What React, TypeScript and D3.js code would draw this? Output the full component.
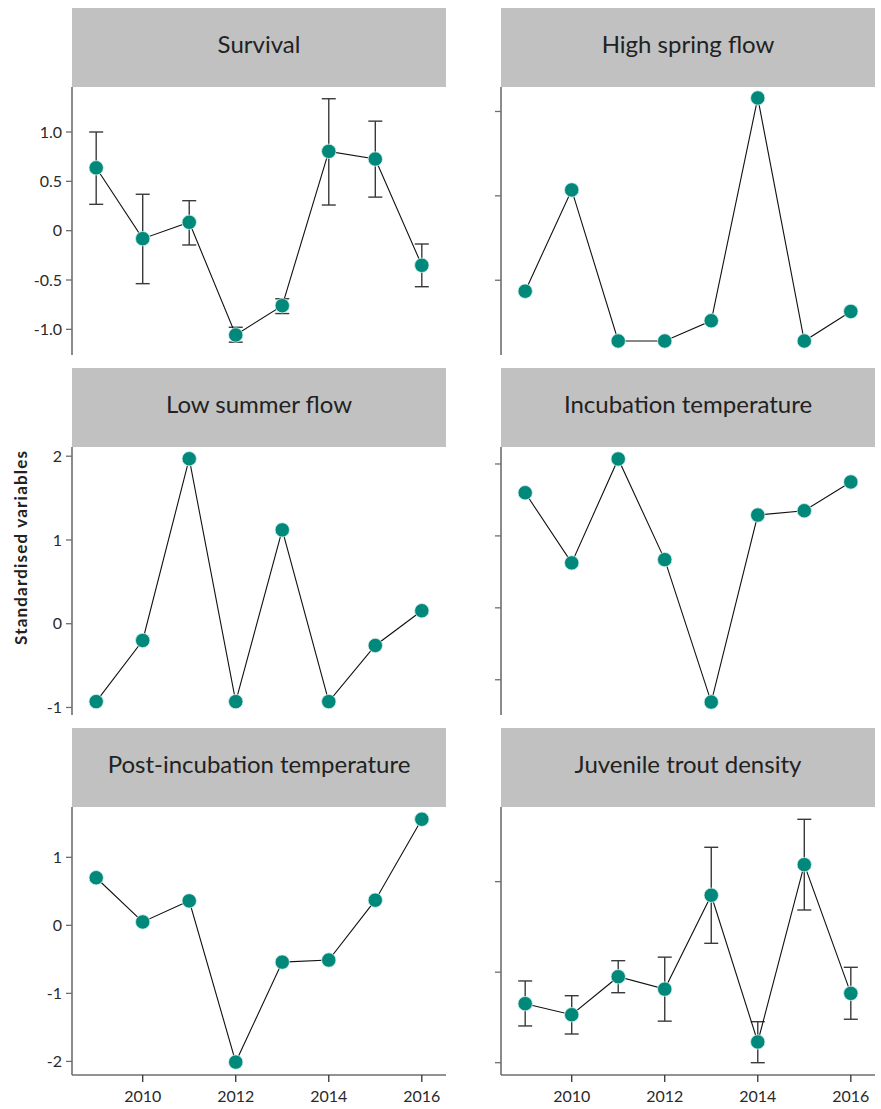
import React from 'react';
import * as d3 from 'd3';

// years on the x axis
const years = [2009, 2010, 2011, 2012, 2013, 2014, 2015, 2016];
const xTicks = [2010, 2012, 2014, 2016];

// series
const survival = [0.637, -0.081, 0.085, -1.057, -0.76, 0.804, 0.726, -0.351];
const survivalHi = [1.0, 0.369, 0.304, -0.979, -0.69, 1.337, 1.11, -0.135];
const survivalLo = [0.267, -0.537, -0.145, -1.13, -0.84, 0.26, 0.34, -0.568];

const highSpringFlow = [-0.13, 1.07, -0.72, -0.72, -0.48, 2.16, -0.72, -0.37];
const lowSummerFlow = [-0.93, -0.2, 1.97, -0.93, 1.12, -0.93, -0.26, 0.155];
const incubationTemp = [0.6, -0.375, 1.07, -0.33, -2.31, 0.29, 0.35, 0.75];
const postIncubationTemp = [0.7, 0.05, 0.36, -2.01, -0.54, -0.51, 0.37, 1.56];

const juvenileDensity = [-0.348, -0.47, -0.05, -0.187, 0.85, -0.771, 1.188, -0.234];
const juvenileHi = [-0.097, -0.26, 0.127, 0.166, 1.38, -0.547, 1.689, 0.054];
const juvenileLo = [-0.594, -0.683, -0.227, -0.541, 0.319, -1.0, 0.687, -0.52];

// y tick values (and labels) per panel
const survivalTicks = [1.0, 0.5, 0, -0.5, -1.0];
const survivalTickLabels = ['1.0', '0.5', '0', '-0.5', '-1.0'];
const springTicks = [2, 1, 0];
const summerTicks = [2, 1, 0, -1];
const incubationTicks = [1, 0, -1, -2];
const postTicks = [1, 0, -1, -2];
const juvenileTicks = [1, 0, -1];

type Panel = {
  title: string;
  values: number[];
  lo?: number[];
  hi?: number[];
  domain: [number, number];
  ticks: number[];
  tickLabels?: string[];
  col: number;
  row: number;
};

const panels: Panel[] = [
  { title: 'Survival', values: survival, lo: survivalLo, hi: survivalHi, domain: [-1.26, 1.456],
    ticks: survivalTicks, tickLabels: survivalTickLabels, col: 0, row: 0 },
  { title: 'High spring flow', values: highSpringFlow, domain: [-0.886, 2.29], ticks: springTicks, col: 1, row: 0 },
  { title: 'Low summer flow', values: lowSummerFlow, domain: [-1.09, 2.11], ticks: summerTicks,
    tickLabels: ['2', '1', '0', '-1'], col: 0, row: 1 },
  { title: 'Incubation temperature', values: incubationTemp, domain: [-2.49, 1.236], ticks: incubationTicks, col: 1, row: 1 },
  { title: 'Post-incubation temperature', values: postIncubationTemp, domain: [-2.2, 1.74], ticks: postTicks,
    tickLabels: ['1', '0', '-1', '-2'], col: 0, row: 2 },
  { title: 'Juvenile trout density', values: juvenileDensity, lo: juvenileLo, hi: juvenileHi,
    domain: [-1.136, 1.825], ticks: juvenileTicks, col: 1, row: 2 },
];

const colX = [72, 501];
const plotW = 374;
const stripTop = [8, 368, 728];
const stripH = 79;
const plotH = 268;
const font = 'Lato, "Open Sans", sans-serif';
const teal = '#00897b';
const axisGrey = '#6e6e6e';

function PanelView({ p }: { p: Panel }) {
  const left = colX[p.col];
  const top = stripTop[p.row] + stripH;
  const x = d3.scaleLinear().domain([2008.48, 2016.52]).range([0, plotW]);
  const y = d3.scaleLinear().domain(p.domain).range([plotH, 0]);
  const line = d3.line<number>().x((_, i) => x(years[i])).y(d => y(d));
  const bottomRow = p.row === 2;
  const showLabels = p.col === 0;

  return (
    <g>
      <rect x={left} y={stripTop[p.row]} width={plotW} height={stripH} fill="#c0c1c0" />
      <text x={left + plotW / 2} y={stripTop[p.row] + 45} textAnchor="middle"
        fontFamily={font} fontSize={24} fill="#222">{p.title}</text>
      <g transform={`translate(${left},${top})`}>
        <line x1={0} x2={0} y1={0} y2={plotH} stroke={axisGrey} strokeWidth={1.6} />
        {p.ticks.map((t, i) => (
          <g key={t} transform={`translate(0,${y(t)})`}>
            <line x1={-6} x2={0} stroke={axisGrey} strokeWidth={1.3} />
            {showLabels && (
              <text x={-10} dy="0.36em" textAnchor="end" fontFamily={font} fontSize={16} fill="#2a2a2a">
                {p.tickLabels ? p.tickLabels[i] : String(t)}
              </text>
            )}
          </g>
        ))}
        {bottomRow && (
          <g transform={`translate(0,${plotH})`}>
            <line x1={0} x2={plotW} stroke={axisGrey} strokeWidth={1.6} />
            {xTicks.map(t => (
              <g key={t} transform={`translate(${x(t)},0)`}>
                <line y1={0} y2={7} stroke="#333" strokeWidth={1.3} />
                <text y={27} textAnchor="middle" fontFamily={font} fontSize={16} fill="#2a2a2a">{t}</text>
              </g>
            ))}
          </g>
        )}
        {p.lo && p.hi && years.map((yr, i) => (
          <g key={yr} stroke="#3a3a3a" strokeWidth={1.4}>
            <line x1={x(yr)} x2={x(yr)} y1={y(p.hi![i])} y2={y(p.lo![i])} />
            <line x1={x(yr) - 7} x2={x(yr) + 7} y1={y(p.hi![i])} y2={y(p.hi![i])} />
            <line x1={x(yr) - 7} x2={x(yr) + 7} y1={y(p.lo![i])} y2={y(p.lo![i])} />
          </g>
        ))}
        <path d={line(p.values) ?? ''} fill="none" stroke="#111" strokeWidth={1.1} />
        {p.values.map((v, i) => (
          <circle key={i} cx={x(years[i])} cy={y(v)} r={7.2} fill={teal} stroke="#d8f0ec" strokeWidth={0.8} />
        ))}
      </g>
    </g>
  );
}

export default function App() {
  return (
    <svg width={881} height={1109} style={{ position: 'absolute', left: 0, top: 0, background: '#fff' }}>
      <rect width={881} height={1109} fill="#fff" />
      {panels.map(p => <PanelView key={p.title} p={p} />)}
      <text transform="translate(27,548) rotate(-90)" textAnchor="middle" fontFamily={font}
        fontWeight="bold" fontSize={17} textLength={194} lengthAdjust="spacing" fill="#222">Standardised variables</text>
    </svg>
  );
}
